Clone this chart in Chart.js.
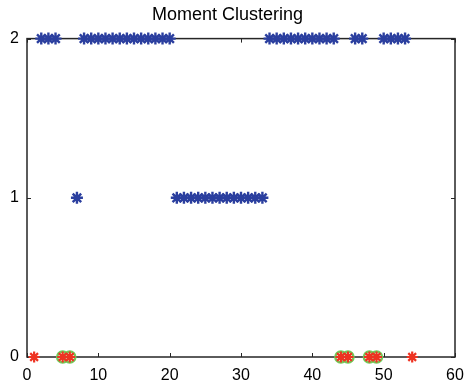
<!DOCTYPE html>
<html>
<head>
<meta charset="utf-8">
<script src="https://cdn.jsdelivr.net/npm/chart.js@4/dist/chart.umd.min.js"></script>
<style>
  html, body { margin: 0; padding: 0; background: #fff; }
  canvas { display: block; }
</style>
</head>
<body>
<canvas id="clusterChart" width="468" height="385"></canvas>
<script>
// momentos e cluster de cada um
const moments = [1, 2, 3, 4, 5, 6, 7, 8, 9, 10, 11, 12, 13, 14, 15, 16, 17, 18,
  19, 20, 21, 22, 23, 24, 25, 26, 27, 28, 29, 30, 31, 32, 33, 34, 35, 36,
  37, 38, 39, 40, 41, 42, 43, 44, 45, 46, 47, 48, 49, 50, 51, 52, 53, 54];
const clusters = [0, 2, 2, 2, 0, 0, 1, 2, 2, 2, 2, 2, 2, 2, 2, 2, 2, 2,
  2, 2, 1, 1, 1, 1, 1, 1, 1, 1, 1, 1, 1, 1, 1, 2, 2, 2,
  2, 2, 2, 2, 2, 2, 2, 0, 0, 2, 2, 0, 0, 2, 2, 2, 2, 0];
// momentos marcados com circulo verde
const circled = [5, 6, 44, 45, 48, 49];

const xTicks = [0, 10, 20, 30, 40, 50, 60];
const yTicks = [0, 1, 2];

const FONT = "'Liberation Sans', Arial, Helvetica, sans-serif";

// separa os pontos por cor
const bluePts = [];
const redPts = [];
moments.forEach((m, i) => {
  if (clusters[i] === 0) redPts.push({ x: m, y: 0 });
  else bluePts.push({ x: m, y: clusters[i] });
});
const greenPts = circled.map(m => ({ x: m, y: clusters[moments.indexOf(m)] }));

// caixa do eixo com ticks para dentro (estilo matlab)
const boxPlugin = {
  id: 'boxPlugin',
  beforeDatasetsDraw(chart) {
    const { ctx, chartArea: a, scales } = chart;
    ctx.save();
    ctx.strokeStyle = '#262626';
    ctx.lineWidth = 1.5;
    ctx.strokeRect(a.left, a.top, a.right - a.left, a.bottom - a.top);
    ctx.lineWidth = 1;
    ctx.beginPath();
    xTicks.forEach(v => {
      const px = Math.round(scales.x.getPixelForValue(v)) + 0.5;
      ctx.moveTo(px, a.bottom); ctx.lineTo(px, a.bottom - 4);
      ctx.moveTo(px, a.top); ctx.lineTo(px, a.top + 4);
    });
    yTicks.forEach(v => {
      const py = Math.round(scales.y.getPixelForValue(v)) + 0.5;
      ctx.moveTo(a.left, py); ctx.lineTo(a.left + 4, py);
      ctx.moveTo(a.right, py); ctx.lineTo(a.right - 4, py);
    });
    ctx.stroke();
    ctx.restore();
  }
};

const ctx = document.getElementById('clusterChart').getContext('2d');
new Chart(ctx, {
  type: 'scatter',
  data: {
    datasets: [
      {
        data: redPts,
        pointStyle: 'star',
        pointRadius: 5.5,
        borderWidth: 2.2,
        borderColor: '#ee3322',
        backgroundColor: '#ee3322',
        clip: false
      },
      {
        data: greenPts,
        pointStyle: 'circle',
        pointRadius: 5.5,
        borderWidth: 2.5,
        borderColor: '#6fcc5a',
        backgroundColor: 'rgba(0,0,0,0)',
        clip: false
      },
      {
        data: bluePts,
        pointStyle: 'star',
        pointRadius: 6,
        borderWidth: 2.4,
        borderColor: '#2b3f9f',
        backgroundColor: '#2b3f9f',
        clip: false
      }
    ]
  },
  options: {
    responsive: false,
    animation: false,
    layout: { padding: { left: 0, right: 13, top: 0, bottom: 0 } },
    plugins: {
      legend: { display: false },
      tooltip: { enabled: false },
      title: {
        display: true,
        text: 'Moment Clustering',
        color: '#000',
        font: { family: FONT, size: 18, weight: 'normal' },
        padding: { top: 4, bottom: 13 }
      }
    },
    scales: {
      x: {
        type: 'linear',
        min: 0,
        max: 60,
        afterBuildTicks: s => { s.ticks = xTicks.map(v => ({ value: v })); },
        afterFit: s => { s.height = 28; s.paddingLeft = 0; s.paddingRight = 0; },
        grid: { display: false, drawTicks: false },
        border: { display: false },
        ticks: { color: '#000', padding: 9, font: { family: FONT, size: 16 } }
      },
      y: {
        type: 'linear',
        min: 0,
        max: 2,
        afterBuildTicks: s => { s.ticks = yTicks.map(v => ({ value: v })); },
        afterFit: s => { s.width = 27; s.paddingTop = 0; s.paddingBottom = 0; },
        grid: { display: false, drawTicks: false },
        border: { display: false },
        ticks: { color: '#000', padding: 8, font: { family: FONT, size: 16 } }
      }
    }
  },
  plugins: [boxPlugin]
});
</script>
</body>
</html>
